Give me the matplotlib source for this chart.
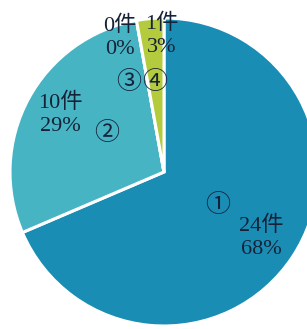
import numpy as np
import matplotlib
matplotlib.use("Agg")
import matplotlib.pyplot as plt

# data
marks = ["①", "②", "③", "④"]
counts = [24, 10, 0, 1]
percents = ["68%", "29%", "0%", "3%"]
colors = ["#1a8db5", "#47b4c4", "#3fb0bf", "#b3cb3c"]

# label placement (radius, angle offset in degrees)
mark_r = [0.41, 0.45, 0.63, 0.59]
mark_off = [2.0, -6.0, 11.0, 0.5]
text_r = [0.76, 0.77, 0.92, 0.89]
text_off = [-0.4, -1.0, 8.0, -4.3]

serif = ["Liberation Serif", "Noto Sans CJK JP"]
ink = "#172238"

fig = plt.figure(figsize=(3.07, 3.29), dpi=100)
ax = fig.add_axes([0, 0, 1, 1])
wedges, _ = ax.pie(counts, colors=colors, startangle=90, counterclock=False,
                   radius=1.0,
                   wedgeprops=dict(edgecolor="white", linewidth=2.2))

for i, w in enumerate(wedges):
    mid = np.deg2rad((w.theta1 + w.theta2) / 2)
    a = mid + np.deg2rad(mark_off[i])
    ax.text(mark_r[i] * np.cos(a), mark_r[i] * np.sin(a), marks[i],
            family=["Noto Sans CJK JP", "DejaVu Sans"], fontsize=18,
            color=ink, ha="center", va="center")
    b = mid + np.deg2rad(text_off[i])
    ax.text(text_r[i] * np.cos(b), text_r[i] * np.sin(b),
            f"{counts[i]}件\n{percents[i]}", family=serif, fontsize=16,
            color=ink, ha="center", va="center", linespacing=1.3)

ax.set_xlim(-164 / 154, (307 - 164) / 154)
ax.set_ylim(-157 / 154, 172 / 154)
ax.set_aspect("auto")
ax.axis("off")
fig.savefig("out.png", dpi=100, facecolor="white")
